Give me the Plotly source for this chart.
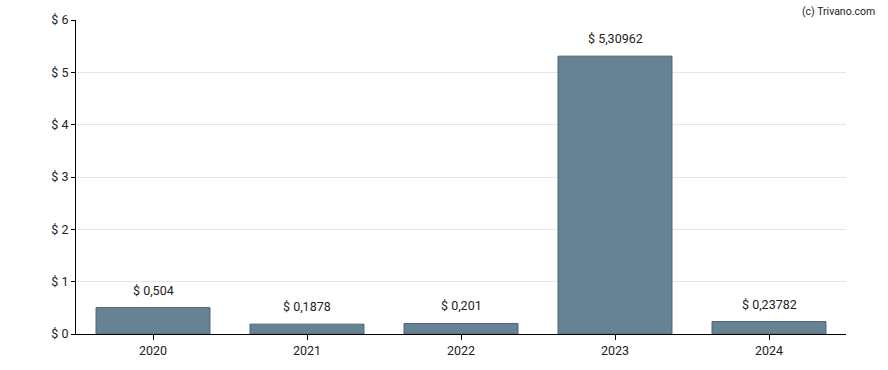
import plotly.graph_objects as go

years = ["2020", "2021", "2022", "2023", "2024"]
values = [0.504, 0.1878, 0.201, 5.30962, 0.23782]
labels = ["$ 0,504", "$ 0,1878", "$ 0,201", "$ 5,30962", "$ 0,23782"]
y_ticks = [0, 1, 2, 3, 4, 5, 6]
y_tick_text = ["$ 0", "$ 1", "$ 2", "$ 3", "$ 4", "$ 5", "$ 6"]

xpos = list(range(len(years)))

fig = go.Figure()
fig.add_trace(go.Bar(
    x=xpos, y=values, width=0.74,
    marker=dict(color="#668394", line=dict(color="#4a6478", width=1)),
    hoverinfo="skip",
))
for x, v, t in zip(xpos, values, labels):
    fig.add_annotation(x=x, y=v, text=t, showarrow=False, yanchor="bottom",
                       yshift=8, font=dict(size=12.5, color="#222222", family="Roboto"))
fig.add_annotation(xref="paper", yref="paper", x=1.04, y=1.054, text="(c) Trivano.com",
                   showarrow=False, xanchor="right", yanchor="top",
                   font=dict(size=10.5, color="#222222", family="Roboto"))

fig.update_layout(
    width=888, height=370,
    margin=dict(l=76, r=42, t=20, b=36, autoexpand=False),
    plot_bgcolor="white", paper_bgcolor="white",
    showlegend=False,
    font=dict(family="Roboto", size=12.5, color="#222222"),
)
fig.update_xaxes(range=[-0.5, 4.5], tickvals=xpos, ticktext=years,
                 showline=True, linecolor="black", linewidth=1, ticks="outside",
                 ticklen=5, tickcolor="black", showgrid=False, zeroline=False,
                 automargin=False)
fig.update_yaxes(range=[0, 6], tickvals=y_ticks, ticktext=y_tick_text,
                 showline=True, linecolor="black", linewidth=1, ticks="outside",
                 ticklen=4, tickcolor="black", showgrid=True, gridcolor="#e6e6e6",
                 zeroline=False, automargin=False)

fig.write_html("out.html", config={"displayModeBar": False},
               post_script="document.body.style.margin='0';")
